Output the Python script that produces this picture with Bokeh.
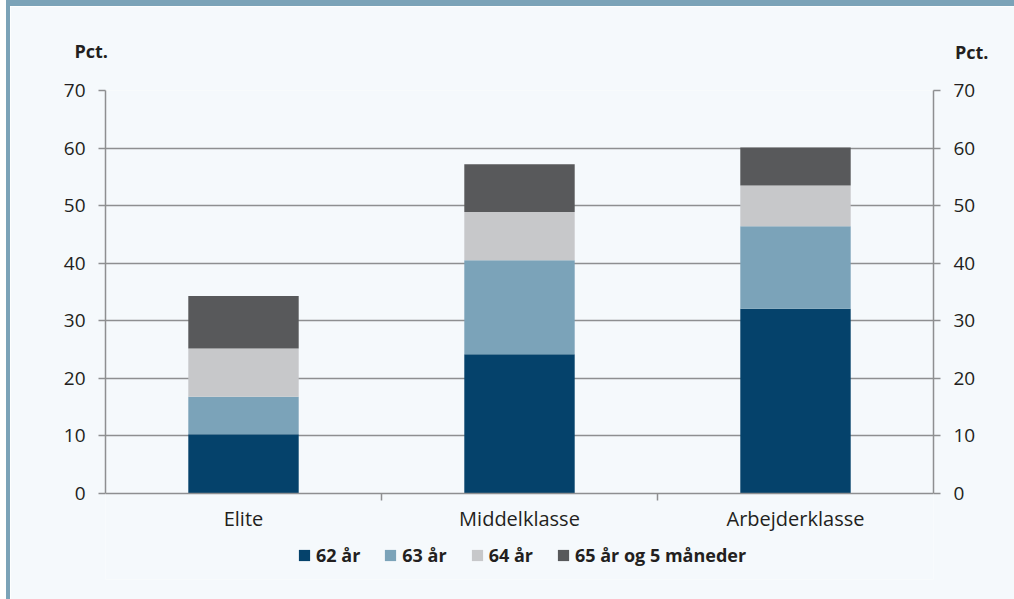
from bokeh.plotting import figure
from bokeh.models import (ColumnDataSource, Range1d, LinearAxis, FixedTicker, Legend,
                          LegendItem, Title, Grid)
from bokeh.embed import file_html
from bokeh.resources import INLINE

categories = ["Elite", "Middelklasse", "Arbejderklasse"]
series_names = ["62 år", "63 år", "64 år", "65 år og 5 måneder"]
v62 = [10.3, 24.2, 32.1]
v63 = [6.5, 16.3, 14.3]
v64 = [8.4, 8.4, 7.1]
v65 = [9.1, 8.3, 6.6]
y_ticks = [0, 10, 20, 30, 40, 50, 60, 70]
colors = ["#05426b", "#7ba3b9", "#c7c8ca", "#58595b"]

BG = "#f5f9fc"
EDGE = "#7ba3b8"
GRID = "#8e8f91"
TXT = "#231f20"
FONT = "Open Sans"

xpos = [i + 0.5 for i in range(len(categories))]
src = ColumnDataSource(dict(x=xpos, s0=v62, s1=v63, s2=v64, s3=v65))

# canvas starts at (10, 6) on the page because of the framing strips
# frame: page x 105..933, page y 90..579 ; value 0 sits at page y=493
p = figure(width=1008, height=599, output_backend="svg", toolbar_location=None,
           x_range=Range1d(0, len(categories)), y_range=Range1d(-14.94, 70),
           background_fill_color=BG, border_fill_color=BG,
           min_border_left=95, min_border_right=85, min_border_top=84, min_border_bottom=26,
           x_axis_type=None, y_axis_type=None)
p.outline_line_color = None
p.styles = {"border-left": "4px solid " + EDGE, "border-top": "6px solid " + EDGE,
            "margin-left": "6px"}

rs = p.vbar_stack(["s0", "s1", "s2", "s3"], x="x", width=0.4, source=src,
                  color=colors, line_color=None)

for side in ["left", "right"]:
    ya = LinearAxis(ticker=FixedTicker(ticks=y_ticks), bounds=(0, 70))
    ya.major_tick_out = 7
    ya.major_tick_in = 0
    ya.minor_tick_out = 0
    ya.minor_tick_in = 0
    ya.major_tick_line_color = GRID
    ya.major_tick_line_width = 1.5
    ya.axis_line_color = GRID
    ya.axis_line_width = 1.5
    ya.major_label_text_font = FONT
    ya.major_label_text_font_size = "19px"
    ya.major_label_text_color = TXT
    ya.major_label_standoff = 13
    p.add_layout(ya, side)

p.ygrid.grid_line_color = None
p.xgrid.grid_line_color = None
g = Grid(dimension=1, ticker=FixedTicker(ticks=y_ticks[1:]), grid_line_color=GRID,
         grid_line_width=1.5)
p.add_layout(g)

# "Pct." over each value axis (first added = nearest the frame)
pct_style = dict(text_font=FONT, text_font_size="18px", text_font_style="bold",
                 text_color=TXT, vertical_align="bottom")
p.add_layout(Title(text="Pct.", align="left", offset=-31, standoff=56, **pct_style), "above")
p.add_layout(Title(text="Pct.", align="right", offset=-55, standoff=-110, **pct_style), "above")

# category axis pinned at value 0
xa = LinearAxis(ticker=FixedTicker(ticks=xpos, minor_ticks=[1, 2]),
                major_label_overrides={x: c for x, c in zip(xpos, categories)},
                fixed_location=0)
xa.major_tick_out = 0
xa.major_tick_in = 0
xa.minor_tick_out = 0
xa.minor_tick_in = 7
xa.minor_tick_line_color = GRID
xa.minor_tick_line_width = 1.5
xa.axis_line_color = GRID
xa.axis_line_width = 1.5
xa.major_label_text_font = FONT
xa.major_label_text_font_size = "20px"
xa.major_label_text_color = TXT
xa.major_label_standoff = -39
p.add_layout(xa, "above")

legend = Legend(items=[LegendItem(label=n, renderers=[r]) for n, r in zip(series_names, rs)],
                orientation="horizontal", location=(192, 12),
                background_fill_alpha=0, border_line_color=None,
                label_text_font=FONT, label_text_font_size="18px", label_text_font_style="bold",
                label_text_color=TXT, glyph_width=14, glyph_height=14, label_standoff=5,
                spacing=23, padding=0, margin=0)
p.add_layout(legend)

open("out.html", "w").write(file_html(p, INLINE))
